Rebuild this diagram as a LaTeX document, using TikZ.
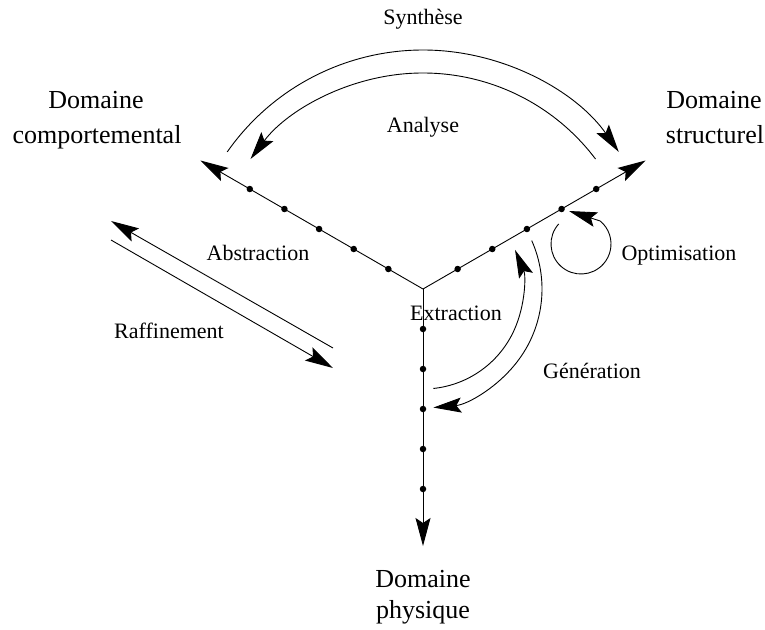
\documentclass[tikz,border=0pt]{standalone}
\usepackage{fontspec}
\setmainfont{Liberation Serif}
\usetikzlibrary{arrows.meta,calc}
\begin{document}
\begin{tikzpicture}[x=1pt,y=-1pt,
  line width=0.9pt,
  arr/.style={-{Stealth[length=28pt,width=15pt,inset=5pt]}},
  lab/.style={font=\fontsize{22}{26}\selectfont, anchor=base, inner sep=0pt},
  dom/.style={font=\fontsize{26}{30}\selectfont, anchor=base, inner sep=0pt},
  dotn/.style={circle, fill, inner sep=0pt, minimum size=6.5pt}]
\useasboundingbox (0,0) rectangle (765,629);
% axes
\coordinate (O) at (423,289);
\coordinate (L) at ($(O)+(-150:257)$);
\coordinate (R) at ($(O)+(-30:257)$);
\coordinate (D) at ($(O)+(90:257)$);
\draw[arr] (O) -- (L);
\draw[arr] (O) -- (R);
\draw[arr] (O) -- (D);
\foreach \k in {1,...,5} {
  \node[dotn] (l\k) at ($(O)+(-150:40*\k)$) {};
  \node[dotn] (r\k) at ($(O)+(-30:40*\k)$) {};
  \node[dotn] (d\k) at ($(O)+(90:40*\k)$) {};
}
% Synthese / Analyse arcs
\coordinate (s0) at ($(O)+(-145:239)$);
\draw[arr] (s0) arc[start angle=-145, end angle=-35, radius=239];
\coordinate (a0) at ($(O)+(-37:216)$);
\draw[arr] (a0) arc[start angle=-37, end angle=-143, radius=216];
% Generation / Extraction arcs
\coordinate (g0) at ($(O)+(-24:119)$);
\draw[arr] (g0) arc[start angle=-24, end angle=85, radius=119];
\coordinate (e0) at ($(O)+(84:100)$);
\draw[arr] (e0) arc[start angle=84, end angle=-23, radius=100];
% Optimisation loop
\coordinate (C) at (581,244);
\coordinate (c0) at ($(C)+(-138:30)$);
\coordinate (c1) at ($(C)+(-50:30)$);
\coordinate (ct) at (569,211);
\draw (c0) arc[start angle=-138, end angle=-410, radius=30];
\draw[arr] (c1) -- (ct);
% Abstraction / Raffinement
\coordinate (ab0) at (333,348);
\coordinate (ab1) at (111,221);
\draw[arr] (ab0) -- (ab1);
\coordinate (rf0) at (111,240);
\coordinate (rf1) at (333,368);
\draw[arr] (rf0) -- (rf1);
% labels
\node[lab] (syn) at (423,24) {Synthèse};
\node[lab] (ana) at (423,132) {Analyse};
\node[dom] (dc1) at (96,108) {Domaine};
\node[dom] (dc2) at (97,143) {comportemental};
\node[dom] (ds1) at (714,108) {Domaine};
\node[dom] (ds2) at (715,143) {structurel};
\node[dom] (dp1) at (423,587) {Domaine};
\node[dom] (dp2) at (423,618) {physique};
\node[lab] (abs) at (258,260) {Abstraction};
\node[lab] (raf) at (169,338) {Raffinement};
\node[lab] (ext) at (456,320) {Extraction};
\node[lab] (gen) at (592,378) {Génération};
\node[lab] (opt) at (679,260) {Optimisation};
\end{tikzpicture}
\end{document}
